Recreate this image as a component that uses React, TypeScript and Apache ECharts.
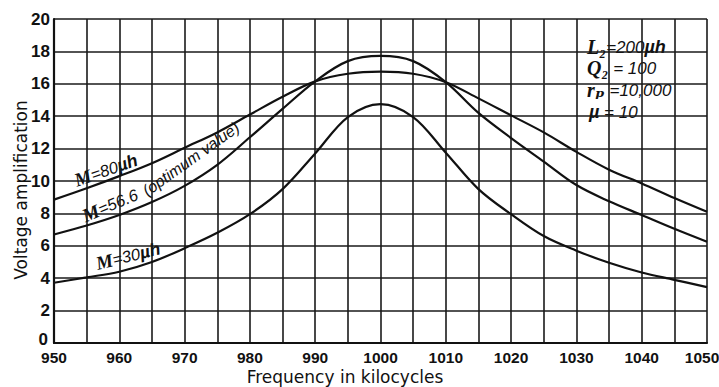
import React, { useEffect, useRef } from "react";
import * as echarts from "echarts";

const freq = [950, 955, 960, 965, 970, 975, 980, 985, 990, 995, 1000, 1005, 1010, 1015, 1020, 1025, 1030, 1035, 1040, 1045, 1050];
const m80 = [8.85, 9.55, 10.3, 11.1, 12.05, 13.0, 14.1, 15.2, 16.15, 16.62, 16.75, 16.62, 16.1, 15.1, 14.05, 13.0, 11.8, 10.7, 9.85, 8.95, 8.1];
const m566 = [6.7, 7.25, 7.9, 8.7, 9.7, 11.0, 12.7, 14.45, 16.15, 17.4, 17.72, 17.4, 16.1, 14.2, 12.65, 11.2, 9.75, 8.75, 7.9, 7.05, 6.25];
const m30 = [3.72, 4.05, 4.4, 5.0, 5.85, 6.8, 7.95, 9.5, 11.7, 13.95, 14.75, 13.95, 11.75, 9.5, 7.95, 6.6, 5.7, 4.95, 4.35, 3.9, 3.45];
const yTicks = [0, 2, 4, 6, 8, 10, 12, 14, 16, 18, 20];
const xLabelValues = [950, 960, 970, 980, 990, 1000, 1010, 1020, 1030, 1040, 1050];

const LABEL_FONT = "'Liberation Sans', Arial, sans-serif";
const SERIF = "'Liberation Serif', 'DejaVu Serif', serif";
const ITAL = "'Liberation Sans', 'DejaVu Sans', sans-serif";
const TITLE = "'DejaVu Sans', sans-serif";

export default function App() {
  const ref = useRef<HTMLDivElement>(null);
  useEffect(() => {
    document.body.style.margin = "0";
    const chart = echarts.init(ref.current!, undefined, { renderer: "svg" });
    const toPairs = (arr: number[]) => freq.map((f, i) => [f, arr[i]]);
    const lineStyle = { color: "#111", width: 2.2 };
    const richM = {
      m: { fontFamily: SERIF, fontStyle: "italic", fontWeight: "bold", fontSize: 19, fill: "#111" },
      t: { fontFamily: ITAL, fontStyle: "italic", fontSize: 16.5, fill: "#111" },
      u: { fontFamily: ITAL, fontStyle: "italic", fontWeight: "bold", fontSize: 17.5, fill: "#111" },
    };
    const richBox = {
      m: { fontFamily: SERIF, fontStyle: "italic", fontWeight: "bold", fontSize: 20, fill: "#111" },
      t: { fontFamily: ITAL, fontStyle: "italic", fontSize: 17, fill: "#111" },
      u: { fontFamily: ITAL, fontStyle: "italic", fontWeight: "bold", fontSize: 18, fill: "#111" },
    };
    chart.setOption({
      animation: false,
      backgroundColor: "#fff",
      grid: { left: 54, right: 12, top: 19, bottom: 44, containLabel: false, outerBoundsMode: "none" },
      xAxis: {
        type: "value",
        min: 950,
        max: 1050,
        interval: 5,
        axisLine: { show: true, lineStyle: { color: "#111", width: 2.2 } },
        axisTick: { show: false },
        splitLine: { show: true, lineStyle: { color: "#1a1a1a", width: 1.6 } },
        axisLabel: {
          margin: 6,
          color: "#111",
          fontSize: 15.5,
          fontWeight: "bold",
          fontFamily: LABEL_FONT,
          showMinLabel: true,
          showMaxLabel: true,
          formatter: (v: number) =>
            v === 1050 ? "{e|1050}" : xLabelValues.indexOf(v) >= 0 ? String(v) : "",
          rich: {
            e: { fontSize: 15.5, fontWeight: "bold", fontFamily: LABEL_FONT, color: "#111", padding: [0, 10, 0, 0] },
          },
        },
      },
      yAxis: {
        type: "value",
        min: 0,
        max: 20,
        interval: 2,
        axisLine: { show: true, lineStyle: { color: "#111", width: 2.2 } },
        axisTick: { show: false },
        splitLine: { show: true, lineStyle: { color: "#1a1a1a", width: 1.6 } },
        axisLabel: {
          margin: 4,
          color: "#111",
          fontSize: 17,
          fontWeight: "bold",
          fontFamily: LABEL_FONT,
          formatter: (v: number) => (v === 0 ? "{z|0}" : yTicks.indexOf(v) >= 0 ? String(v) : ""),
          rich: {
            z: { fontSize: 17, fontWeight: "bold", fontFamily: LABEL_FONT, color: "#111", padding: [0, 2, 8, 0] },
          },
        },
      },
      series: [
        { name: "M=80µh", type: "line", data: toPairs(m80), smooth: 0.35, showSymbol: false, lineStyle },
        { name: "M=56.6", type: "line", data: toPairs(m566), smooth: 0.35, showSymbol: false, lineStyle },
        { name: "M=30µh", type: "line", data: toPairs(m30), smooth: 0.35, showSymbol: false, lineStyle },
      ],
      graphic: [
        {
          type: "text",
          x: 21,
          y: 190,
          rotation: Math.PI / 2,
          style: {
            text: "Voltage amplification",
            fontFamily: TITLE,
            fontSize: 17,
            fill: "#111",
            textAlign: "center",
            textVerticalAlign: "middle",
          },
        },
        {
          type: "text",
          x: 345,
          y: 377,
          style: {
            text: "Frequency in kilocycles",
            fontFamily: TITLE,
            fontSize: 17,
            fill: "#111",
            textAlign: "center",
            textVerticalAlign: "middle",
          },
        },
        {
          type: "text",
          x: 106,
          y: 170,
          rotation: 0.33,
          style: {
            text: "{m|M}{t|=80}{u|µh}",
            rich: richM,
            backgroundColor: "#fff",
            padding: [0, 2],
            textAlign: "center",
            textVerticalAlign: "middle",
          },
        },
        {
          type: "text",
          x: 110,
          y: 205,
          rotation: 0.4,
          style: {
            text: "{m|M}{t|=56.6}",
            rich: richM,
            backgroundColor: "#fff",
            padding: [0, 1],
            textAlign: "center",
            textVerticalAlign: "middle",
          },
        },
        {
          type: "text",
          x: 191,
          y: 159,
          rotation: 0.62,
          style: {
            text: "(optimum value)",
            fontFamily: ITAL,
            fontStyle: "italic",
            fontSize: 16,
            fill: "#111",
            backgroundColor: "#fff",
            textAlign: "center",
            textVerticalAlign: "middle",
          },
        },
        {
          type: "text",
          x: 128,
          y: 256,
          rotation: 0.24,
          style: {
            text: "{m|M}{t|=30}{u|µh}",
            rich: richM,
            backgroundColor: "#fff",
            padding: [0, 2],
            textAlign: "center",
            textVerticalAlign: "middle",
          },
        },
        {
          type: "rect",
          shape: { x: 586, y: 35, width: 94, height: 88 },
          style: { fill: "#fff" },
        },
        {
          type: "text",
          x: 587,
          y: 47,
          style: { text: "{m|L₂}{t|=200}{u|µh}", rich: richBox, textVerticalAlign: "middle" },
        },
        {
          type: "text",
          x: 587,
          y: 68,
          style: { text: "{m|Q₂}{t| = 100}", rich: richBox, textVerticalAlign: "middle" },
        },
        {
          type: "text",
          x: 587,
          y: 90,
          style: { text: "{m|rₚ}{t| =10,000}", rich: richBox, textVerticalAlign: "middle" },
        },
        {
          type: "text",
          x: 589,
          y: 112,
          style: { text: "{u|µ}{t| = 10}", rich: richBox, textVerticalAlign: "middle" },
        },
      ],
    });
    return () => chart.dispose();
  }, []);
  return <div ref={ref} style={{ width: 719, height: 387, position: "absolute", left: 0, top: 0 }} />;
}
